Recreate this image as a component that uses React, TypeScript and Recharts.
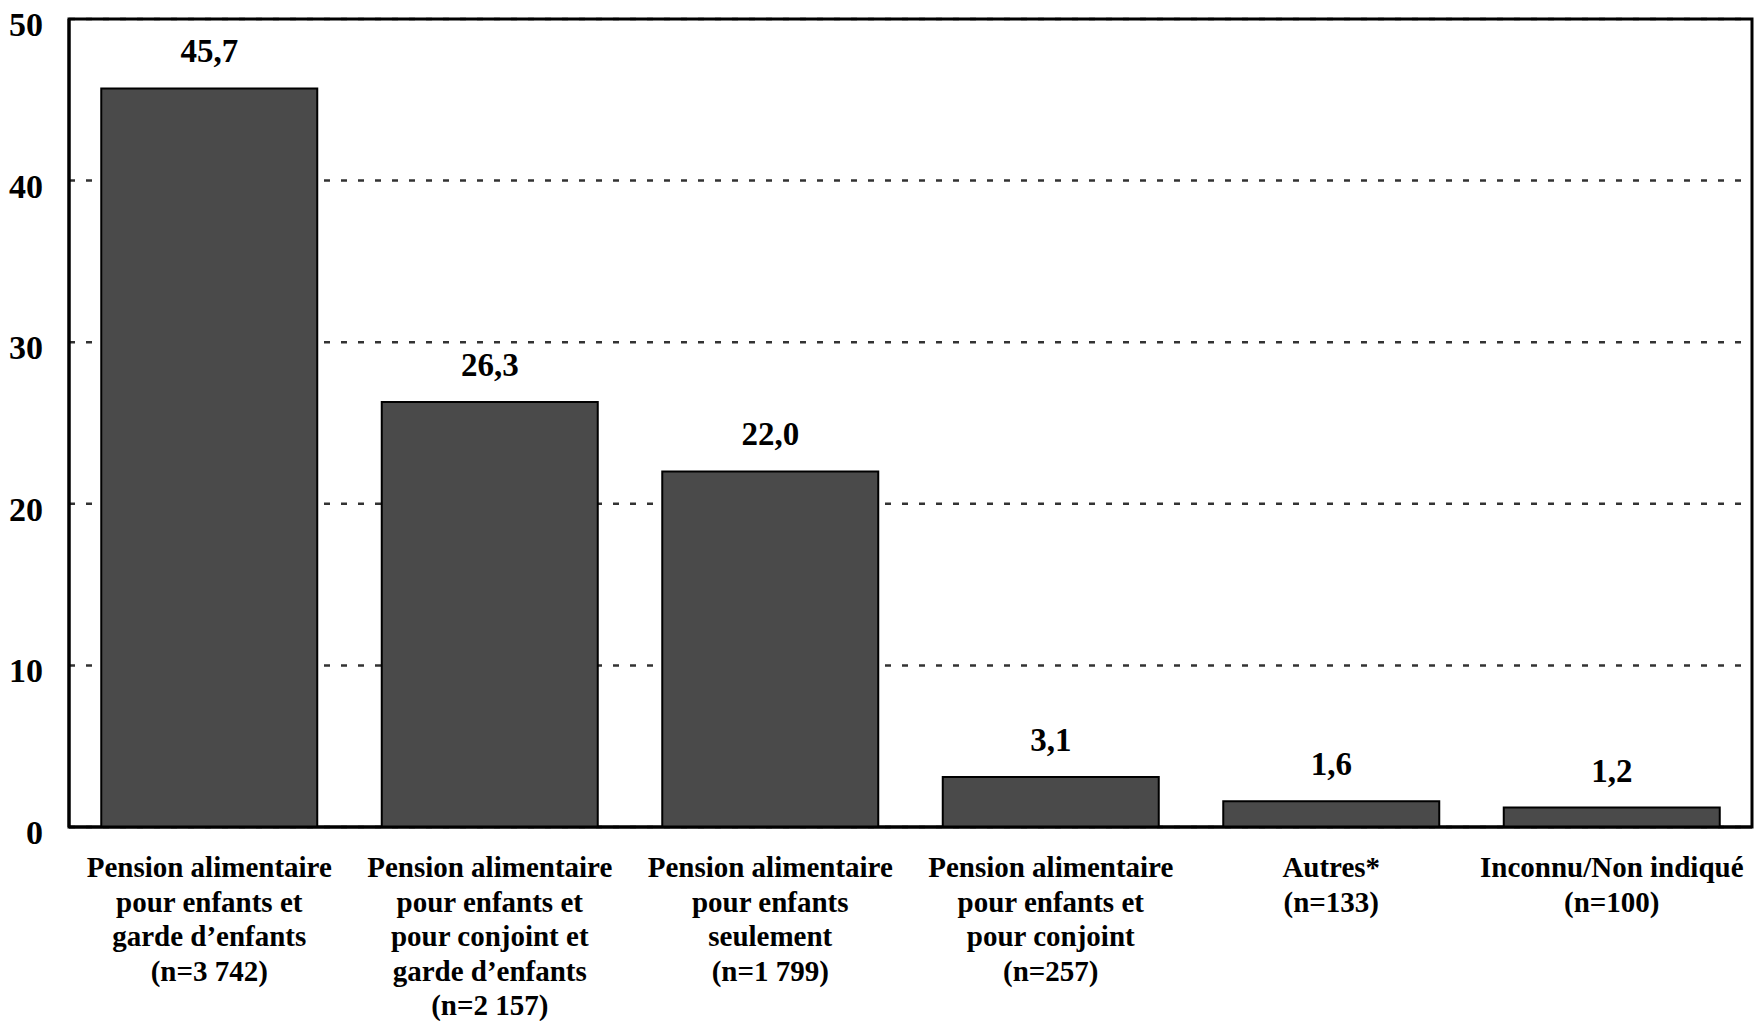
import { Bar, BarChart, CartesianGrid, LabelList, ReferenceArea, XAxis, YAxis } from "recharts";

const categories = [
  "Pension alimentaire\npour enfants et\ngarde d\u2019enfants\n(n=3 742)",
  "Pension alimentaire\npour enfants et\npour conjoint et\ngarde d\u2019enfants\n(n=2 157)",
  "Pension alimentaire\npour enfants\nseulement\n(n=1 799)",
  "Pension alimentaire\npour enfants et\npour conjoint\n(n=257)",
  "Autres*\n(n=133)",
  "Inconnu/Non indiqu\u00e9\n(n=100)",
];
const values = [45.7, 26.3, 22.0, 3.1, 1.6, 1.2];
const yTicks = [0, 10, 20, 30, 40, 50];

const data = categories.map((name, i) => ({ name, value: values[i] }));

const FONT = '"Liberation Serif", "Times New Roman", serif';

function CategoryTick({ x, y, payload }: any) {
  const lines = String(payload.value).split("\n");
  return (
    <text x={x} y={y + 42} textAnchor="middle" fontFamily={FONT} fontWeight="bold" fontSize={29} fill="#000">
      {lines.map((line, i) => (
        <tspan key={i} x={x} dy={i === 0 ? 0 : 34.5}>
          {line}
        </tspan>
      ))}
    </text>
  );
}

function ValueTick({ x, y, payload }: any) {
  return (
    <text x={x} y={y + 17} textAnchor="end" fontFamily={FONT} fontWeight="bold" fontSize={34} fill="#000">
      {payload.value}
    </text>
  );
}

const fmt = (v: any) => Number(v).toFixed(1).replace(".", ",");

export default function App() {
  return (
    <div style={{ position: "absolute", left: 0, top: 0, background: "#fff" }}>
      <BarChart
        width={1756}
        height={1021}
        data={data}
        margin={{ top: 19, right: 4, bottom: 4, left: 0 }}
        barCategoryGap="11.5%"
      >
        <CartesianGrid vertical={false} stroke="#333" strokeWidth={2.5} strokeDasharray="6 11" />
        <XAxis
          dataKey="name"
          interval={0}
          height={190}
          tick={<CategoryTick />}
          tickLine={false}
          axisLine={{ stroke: "#000", strokeWidth: 3 }}
        />
        <YAxis
          domain={[0, 50]}
          ticks={yTicks}
          width={69}
          tickSize={0}
          tickMargin={26}
          tick={<ValueTick />}
          tickLine={false}
          axisLine={{ stroke: "#000", strokeWidth: 3 }}
        />
        <ReferenceArea y1={0} y2={50} fill="none" fillOpacity={0} stroke="#000" strokeWidth={3} ifOverflow="visible" />
        <Bar dataKey="value" fill="#4a4a4a" stroke="#000" strokeWidth={2} isAnimationActive={false}>
          <LabelList
            dataKey="value"
            position="top"
            offset={26}
            formatter={fmt}
            style={{ fontFamily: FONT, fontWeight: "bold", fontSize: 33, fill: "#000" }}
          />
        </Bar>
      </BarChart>
    </div>
  );
}
